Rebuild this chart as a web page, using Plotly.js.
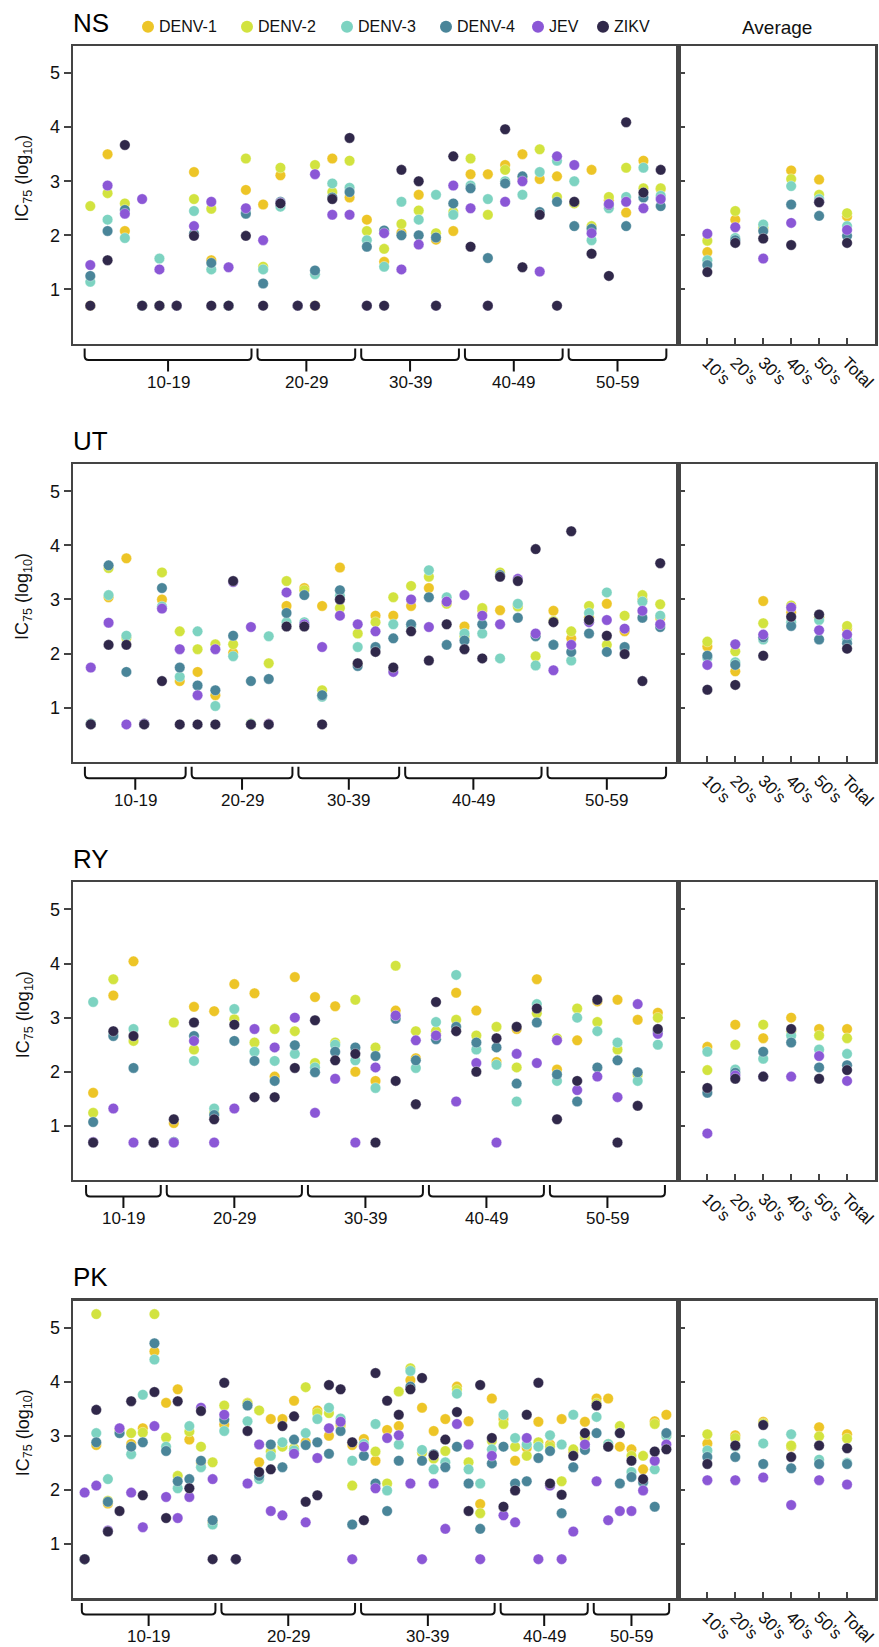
<!DOCTYPE html>
<html><head><meta charset="utf-8">
<script src="https://cdn.plot.ly/plotly-3.0.1.min.js"></script>
<style>html,body{margin:0;padding:0;background:#fff}</style>
</head><body><div id="chart" style="width:879px;height:1647px"></div>
<script>
// ---------------- DATA ----------------
const viruses = ['DENV-1','DENV-2','DENV-3','DENV-4','JEV','ZIKV'];
const panelNames = ['NS','UT','RY','PK'];
const ageGroups = ['10-19','20-29','30-39','40-49','50-59'];
const avgCategories = ['10\u2019s','20\u2019s','30\u2019s','40\u2019s','50\u2019s','Total'];

const NS_groupSizes = [10,6,6,6,6];
const UT_groupSizes = [6,6,6,8,7];
const RY_groupSizes = [4,7,6,6,6];
const PK_groupSizes = [12,12,12,8,7];

const NS_DENV1 = [0.7,3.50,2.08,0.7,0.7,0.7,3.17,1.54,0.7,2.84, 2.57,3.11,0.7,0.7,3.42,2.70, 2.29,1.51,2.05,2.75,1.92,2.08, 3.13,3.13,3.30,3.50,3.04,3.09, 2.60,3.21,2.65,2.42,3.38,2.85];
const NS_DENV2 = [2.54,2.78,2.59,0.7,0.7,0.7,2.67,2.49,0.7,3.42, 1.42,3.25,0.7,3.30,2.80,3.38, 2.08,1.75,2.21,2.46,2.04,2.43, 3.42,2.38,3.21,3.05,3.59,2.71, 2.59,2.17,2.71,3.25,2.87,2.87];
const NS_DENV3 = [1.14,2.29,1.95,0.7,1.57,0.7,2.45,1.37,0.7,2.43, 1.37,2.53,0.7,1.28,2.96,2.88, 1.91,1.42,2.62,2.29,2.75,2.38, 2.92,2.67,3.00,2.75,3.17,3.38, 3.00,1.91,2.50,2.71,3.25,2.73];
const NS_DENV4 = [1.25,2.08,2.47,0.7,0.7,0.7,2.03,1.49,0.7,2.40, 1.11,2.62,0.7,1.35,2.70,2.80, 1.79,2.09,2.00,2.00,1.96,2.59, 2.87,1.58,2.96,3.09,2.43,2.62, 2.17,2.12,2.56,2.17,2.70,2.54];
const NS_JEV   = [1.45,2.92,2.40,2.67,1.37,0.7,2.17,2.62,1.41,2.50, 1.91,2.60,0.7,3.13,2.38,2.38, 0.7,2.04,1.37,1.83,0.7,2.92, 2.50,0.7,2.62,3.00,1.33,3.46, 3.30,2.04,2.58,2.62,2.50,2.67];
const NS_ZIKV  = [0.7,1.54,3.67,0.7,0.7,0.7,1.99,0.7,0.7,1.99, 0.7,2.59,0.7,0.7,2.67,3.80, 0.7,0.7,3.21,3.00,0.7,3.46, 1.79,0.7,3.96,1.41,2.38,0.7, 2.62,1.66,1.25,4.09,2.79,3.21];

const UT_DENV1 = [0.7,3.04,3.76,0.7,3.00,1.49, 1.66,1.23,2.01,0.7,0.7,2.88, 3.21,2.88,3.59,1.80,2.70,2.70, 2.88,3.21,2.94,2.50,2.80,2.80,2.90,2.35, 2.79,2.28,2.67,2.92,2.41,3.00,2.66];
const UT_DENV2 = [0.7,3.58,2.29,0.7,3.50,2.41, 2.08,2.17,2.17,0.7,1.82,3.34, 3.17,1.32,2.84,2.37,2.58,3.04, 3.25,3.42,2.92,2.32,2.84,3.50,2.87,1.95, 2.60,2.41,2.88,2.16,2.70,3.08,2.91];
const UT_DENV3 = [0.7,3.08,2.33,0.7,2.87,1.57, 2.41,1.03,1.95,0.7,2.32,2.58, 2.58,1.20,3.07,2.12,2.10,2.54, 2.50,3.54,3.04,2.37,2.37,1.91,2.92,1.78, 2.16,1.87,2.75,3.13,2.10,2.96,2.70];
const UT_DENV4 = [0.7,3.63,1.66,0.7,3.21,1.74, 1.41,1.32,2.33,1.49,1.53,2.75, 3.08,1.23,3.17,1.77,2.12,2.28, 2.54,3.04,2.16,2.24,2.54,3.45,2.66,2.32, 2.16,2.03,2.37,2.03,2.12,2.66,2.49];
const UT_JEV   = [1.74,2.57,0.69,0.7,2.83,2.08, 1.23,2.08,3.32,2.49,0.7,3.13, 2.54,2.12,2.70,2.54,2.41,1.66, 3.00,2.49,2.96,3.08,2.70,2.54,3.38,2.37, 1.69,2.16,2.58,2.62,2.46,2.79,2.54];
const UT_ZIKV  = [0.69,2.16,2.16,0.69,1.49,0.69, 0.69,0.69,3.34,0.69,0.69,2.50, 2.50,0.69,3.00,1.82,2.03,1.74, 2.41,1.87,2.54,2.08,1.91,3.42,3.34,3.93, 2.58,4.26,2.62,2.33,1.99,1.49,3.67];

const RY_DENV1 = [1.61,3.41,4.04,0.69, 1.05,3.20,3.12,3.62,3.45,1.91,3.75, 3.38,3.21,2.00,1.83,3.13,2.25, 2.70,3.46,3.13,2.18,2.79,3.71, 2.04,2.58,3.30,3.33,2.96,3.09];
const RY_DENV2 = [1.24,3.71,2.57,0.69, 2.91,2.41,1.24,2.97,2.54,2.79,2.75, 2.16,2.54,3.33,2.45,3.96,2.75, 2.75,2.96,2.67,2.83,2.08,3.08, 2.62,3.17,2.92,2.41,1.95,3.00];
const RY_DENV3 = [3.29,2.70,2.79,0.69, 0.7,2.20,1.32,3.16,2.37,2.20,2.33, 2.08,2.50,2.21,1.70,3.02,2.07, 2.92,3.79,2.41,2.13,1.45,3.25, 1.83,3.00,2.75,2.54,1.83,2.50];
const RY_DENV4 = [1.07,2.66,2.07,0.69, 0.7,2.66,1.20,2.57,2.20,1.83,2.49, 1.99,2.37,2.45,2.29,2.98,2.21, 2.60,2.83,2.54,2.45,1.78,2.91, 1.95,1.45,2.08,2.21,1.99,2.75];
const RY_JEV   = [0.7,1.32,0.69,0.69, 0.69,2.57,0.69,1.32,2.79,2.45,3.00, 1.24,1.87,0.69,2.08,3.04,2.58, 2.67,1.45,2.16,0.69,2.33,2.16, 2.58,1.66,1.91,1.53,3.25,2.70];
const RY_ZIKV  = [0.69,2.75,2.66,0.69, 1.12,2.91,1.12,2.87,1.53,1.53,2.07, 2.95,2.21,2.33,0.69,1.83,1.40, 3.29,2.75,2.00,2.62,2.83,3.17, 1.12,1.83,3.33,0.69,1.37,2.79];

const PK_DENV1 = [0.72,2.83,1.75,3.10,2.85,3.14,4.56,3.61,3.86,2.93,2.50,1.40, 3.21,0.72,3.61,2.51,3.31,3.31,3.65,2.88,3.47,3.00,3.19,2.83, 2.94,2.54,3.11,3.18,4.03,3.52,3.09,3.31,3.91,3.27,1.74,3.69, 3.31,2.54,2.78,3.26,2.84,3.31,2.70,3.26, 3.69,3.69,2.80,2.75,2.38,3.27,3.39];
const PK_DENV2 = [0.72,5.25,1.80,3.10,3.05,3.06,5.25,2.97,2.26,3.08,2.80,2.51, 3.56,0.72,3.60,3.47,2.71,2.80,2.77,3.90,3.42,3.42,3.22,2.08, 2.85,2.71,2.12,3.82,4.25,2.69,2.58,2.72,3.85,2.51,1.57,2.91, 3.22,2.80,2.63,2.88,2.80,2.16,2.75,2.97, 3.60,2.85,3.18,2.63,2.63,3.22,3.00];
const PK_DENV3 = [0.72,3.05,2.20,3.05,2.66,3.76,4.41,2.80,2.03,3.18,2.42,1.36, 3.09,0.72,3.27,2.20,2.63,2.88,2.73,3.05,3.31,3.52,3.32,2.54, 2.85,3.22,1.99,2.84,4.20,2.74,2.38,2.51,3.78,2.38,2.12,2.75, 3.39,2.96,2.84,2.80,3.01,2.84,3.39,2.80, 3.35,2.85,3.05,2.33,2.13,2.38,3.00];
const PK_DENV4 = [0.72,2.88,1.78,3.05,2.80,2.88,4.71,2.72,2.16,2.20,2.54,1.44, 3.30,0.72,3.56,2.26,2.84,2.42,2.93,2.83,2.88,2.67,3.09,1.36, 2.63,2.12,1.61,2.54,3.91,2.54,2.66,2.42,2.80,2.12,1.28,2.49, 2.80,2.12,2.16,2.59,2.72,1.57,2.42,2.74, 3.05,2.80,2.12,2.24,2.15,1.69,3.05];
const PK_JEV   = [1.95,2.08,1.25,3.14,1.95,1.31,3.18,1.87,1.48,1.87,3.52,2.20, 3.39,0.72,2.12,2.84,1.61,1.53,2.67,1.40,2.59,3.14,3.26,0.72, 2.80,2.03,2.96,3.01,2.12,0.72,2.12,1.28,3.22,2.84,0.72,2.63, 1.53,1.40,2.96,0.72,2.08,0.72,1.23,2.84, 2.16,1.44,1.61,1.61,1.99,2.54,2.84];
const PK_ZIKV  = [0.72,3.48,1.23,1.61,3.64,1.90,3.81,1.48,3.64,2.03,3.46,0.72, 3.98,0.72,3.09,2.33,2.38,3.18,3.36,1.78,1.90,3.94,3.86,2.88, 1.44,4.16,3.65,3.39,3.86,4.07,2.64,2.93,3.44,1.61,3.94,2.96, 1.69,1.99,3.39,3.98,2.12,1.91,2.63,3.05, 3.56,2.80,3.05,2.54,2.20,2.71,2.75];

// averages: 10's, 20's, 30's, 40's, 50's, Total
const NS_AVG_DENV1 = [1.69,2.29,2.12,3.20,3.03,2.35];
const NS_AVG_DENV2 = [1.90,2.45,2.15,3.04,2.75,2.41];
const NS_AVG_DENV3 = [1.54,1.95,2.20,2.91,2.67,2.17];
const NS_AVG_DENV4 = [1.45,1.91,2.08,2.57,2.36,1.99];
const NS_AVG_JEV   = [2.03,2.15,1.57,2.23,2.62,2.10];
const NS_AVG_ZIKV  = [1.32,1.86,1.94,1.82,2.61,1.86];

const UT_AVG_DENV1 = [2.13,1.67,2.97,2.76,2.67,2.46];
const UT_AVG_DENV2 = [2.22,2.04,2.56,2.89,2.67,2.51];
const UT_AVG_DENV3 = [1.92,1.84,2.26,2.58,2.62,2.26];
const UT_AVG_DENV4 = [1.96,1.79,2.30,2.51,2.26,2.19];
const UT_AVG_JEV   = [1.79,2.17,2.35,2.85,2.43,2.35];
const UT_AVG_ZIKV  = [1.33,1.42,1.96,2.68,2.72,2.09];

const RY_AVG_DENV1 = [2.46,2.87,2.62,3.00,2.79,2.79];
const RY_AVG_DENV2 = [2.03,2.50,2.87,2.75,2.67,2.62];
const RY_AVG_DENV3 = [2.37,2.04,2.24,2.67,2.41,2.33];
const RY_AVG_DENV4 = [1.61,1.98,2.37,2.54,2.08,2.12];
const RY_AVG_JEV   = [0.86,1.93,1.91,1.91,2.29,1.83];
const RY_AVG_ZIKV  = [1.70,1.87,1.91,2.79,1.87,2.03];

const PK_AVG_DENV1 = [2.86,3.01,3.26,2.80,3.16,3.03];
const PK_AVG_DENV2 = [3.03,2.96,3.23,2.82,2.99,2.95];
const PK_AVG_DENV3 = [2.73,2.80,2.86,3.03,2.56,2.50];
const PK_AVG_DENV4 = [2.61,2.61,2.48,2.40,2.48,2.48];
const PK_AVG_JEV   = [2.18,2.18,2.23,1.72,2.18,2.10];
const PK_AVG_ZIKV  = [2.48,2.82,3.20,2.61,2.82,2.77];

// ---------------- STYLE / LAYOUT CONSTANTS ----------------
const colors = ['#EDC527','#D2E33F','#7DD3C1','#4A8599','#8B57D6','#30284A'];
const FONT = 'Arial, "Liberation Sans", Helvetica, sans-serif';
const FRAME = '#444444';
const W = 879, H = 1647;
const mainL = 73, mainR = 678, avgR = 875;
const top0 = 46, pitch = 418.2, ph = 297.5;
const legendX = [148, 247, 347, 446, 538, 603];
const legendY = 26.7;

const panels = [
  {name:'NS', sizes:NS_groupSizes, ind:[NS_DENV1,NS_DENV2,NS_DENV3,NS_DENV4,NS_JEV,NS_ZIKV], avg:[NS_AVG_DENV1,NS_AVG_DENV2,NS_AVG_DENV3,NS_AVG_DENV4,NS_AVG_JEV,NS_AVG_ZIKV]},
  {name:'UT', sizes:UT_groupSizes, ind:[UT_DENV1,UT_DENV2,UT_DENV3,UT_DENV4,UT_JEV,UT_ZIKV], avg:[UT_AVG_DENV1,UT_AVG_DENV2,UT_AVG_DENV3,UT_AVG_DENV4,UT_AVG_JEV,UT_AVG_ZIKV]},
  {name:'RY', sizes:RY_groupSizes, ind:[RY_DENV1,RY_DENV2,RY_DENV3,RY_DENV4,RY_JEV,RY_ZIKV], avg:[RY_AVG_DENV1,RY_AVG_DENV2,RY_AVG_DENV3,RY_AVG_DENV4,RY_AVG_JEV,RY_AVG_ZIKV]},
  {name:'PK', sizes:PK_groupSizes, ind:[PK_DENV1,PK_DENV2,PK_DENV3,PK_DENV4,PK_JEV,PK_ZIKV], avg:[PK_AVG_DENV1,PK_AVG_DENV2,PK_AVG_DENV3,PK_AVG_DENV4,PK_AVG_JEV,PK_AVG_ZIKV]}
];

const py = v => 1 - v / H;
const px = v => v / W;
const aid = n => (n === 1 ? '' : String(n));

const traces = [];
const layout = {
  width: W, height: H,
  margin: {l:0, r:0, t:0, b:0},
  paper_bgcolor: '#ffffff', plot_bgcolor: '#ffffff',
  showlegend: false,
  font: {family: FONT, color: '#111'},
  shapes: [], annotations: []
};

panels.forEach((P, p) => {
  const top = top0 + p * pitch, bot = top + ph;
  const yd = [py(bot), py(top)];
  const mi = 2 * p + 1, ai = 2 * p + 2;
  const N = P.ind[0].length;
  const idx = P.ind[0].map((_, i) => i);

  P.ind.forEach((vals, k) => {
    traces.push({
      type: 'scatter', mode: 'markers', name: viruses[k],
      x: idx, y: vals, xaxis: 'x' + aid(mi), yaxis: 'y' + aid(mi),
      marker: {color: colors[k], size: 10.5, line: {width: 0.5, color: 'rgba(255,255,255,0.7)'}},
      hoverinfo: 'skip'
    });
  });
  P.avg.forEach((vals, k) => {
    traces.push({
      type: 'scatter', mode: 'markers', name: viruses[k],
      x: avgCategories.map((_, i) => i), y: vals, xaxis: 'x' + aid(ai), yaxis: 'y' + aid(ai),
      marker: {color: colors[k], size: 10.5, line: {width: 0.5, color: 'rgba(255,255,255,0.7)'}},
      hoverinfo: 'skip'
    });
  });

  const lineCommon = {showline: true, mirror: true, linecolor: FRAME, linewidth: 2.5, showgrid: false, zeroline: false, fixedrange: true};
  layout['xaxis' + aid(mi)] = Object.assign({}, lineCommon, {
    domain: [px(mainL), px(mainR)], range: [-1, N], anchor: 'y' + aid(mi),
    showticklabels: false, ticks: ''
  });
  layout['yaxis' + aid(mi)] = Object.assign({}, lineCommon, {
    domain: yd, range: [0, 5.5], anchor: 'x' + aid(mi),
    tickvals: [1,2,3,4,5], ticks: 'outside', ticklen: 7, tickwidth: 2, tickcolor: FRAME,
    tickfont: {size: 18, color: '#111', family: FONT}
  });
  layout['xaxis' + aid(ai)] = Object.assign({}, lineCommon, {
    domain: [px(mainR), px(avgR)], range: [-1.05, 6], anchor: 'y' + aid(ai),
    tickvals: avgCategories.map((_, i) => i), ticktext: avgCategories, tickangle: 45,
    ticks: 'inside', ticklen: 6, tickwidth: 2, tickcolor: FRAME,
    tickfont: {size: 17, color: '#111', family: FONT}
  });
  layout['yaxis' + aid(ai)] = Object.assign({}, lineCommon, {
    domain: yd, range: [0, 5.5], anchor: 'x' + aid(ai),
    tickvals: [1,2,3,4,5], ticks: 'inside', ticklen: 7, tickwidth: 2, tickcolor: FRAME,
    showticklabels: false
  });

  layout.annotations.push({xref:'paper', yref:'paper', x: px(mainL - 2), y: py(top - 23.5), xanchor:'left', yanchor:'middle',
    text: P.name, showarrow:false, font:{size: 26, color:'#000', family: FONT}});
  layout.annotations.push({xref:'paper', yref:'paper', x: px(24), y: py((top + bot) / 2 - 16), xanchor:'center', yanchor:'middle',
    text: 'IC<sub>75</sub> (log<sub>10</sub>)', textangle: -90, showarrow:false, font:{size: 18, color:'#111', family: FONT}});

  const pxPerUnit = (mainR - mainL) / (N + 1);
  const inset = 3 / pxPerUnit, rx = 4 / pxPerUnit, r = 4;
  const yTop = bot + 5, yH = bot + 16.5, yTick = bot + 28, yLab = bot + 38.5;
  let start = 0;
  P.sizes.forEach((n, g) => {
    const f = start, l = start + n - 1;
    start += n;
    const x0 = f - 0.5 + inset, x1 = l + 0.5 - inset, xm = (f + l) / 2;
    const path = `M ${x0},${py(yTop)} L ${x0},${py(yH - r)} Q ${x0},${py(yH)} ${x0 + rx},${py(yH)} ` +
      `L ${x1 - rx},${py(yH)} Q ${x1},${py(yH)} ${x1},${py(yH - r)} L ${x1},${py(yTop)} ` +
      `M ${xm},${py(yH)} L ${xm},${py(yTick)}`;
    layout.shapes.push({type:'path', xref:'x' + aid(mi), yref:'paper', path: path, line:{color:'#111', width:2}});
    layout.annotations.push({xref:'x' + aid(mi), yref:'paper', x: xm, y: py(yLab), xanchor:'center', yanchor:'middle',
      text: ageGroups[g], showarrow:false, font:{size: 17, color:'#111', family: FONT}});
  });
});

layout.annotations.push({xref:'paper', yref:'paper', x: px((mainR + avgR) / 2), y: py(27.3), xanchor:'center', yanchor:'middle',
  text: 'Average', showarrow:false, font:{size: 19, color:'#111', family: FONT}});

viruses.forEach((v, k) => {
  const cx = legendX[k], rr = 6;
  layout.shapes.push({type:'circle', xref:'paper', yref:'paper', x0: px(cx - rr), x1: px(cx + rr), y0: py(legendY + rr), y1: py(legendY - rr),
    fillcolor: colors[k], line:{width:0}});
  layout.annotations.push({xref:'paper', yref:'paper', x: px(cx + 9), y: py(legendY), xanchor:'left', yanchor:'middle',
    text: v, showarrow:false, font:{size: 16, color:'#111', family: FONT}});
});

Plotly.newPlot('chart', traces, layout, {staticPlot: true, displayModeBar: false}).then(gd => {
  // drop empty placeholder text nodes (blank axis titles)
  gd.querySelectorAll('text').forEach(t => { if (!t.textContent.trim()) t.remove(); });
});
</script>
</body></html>
